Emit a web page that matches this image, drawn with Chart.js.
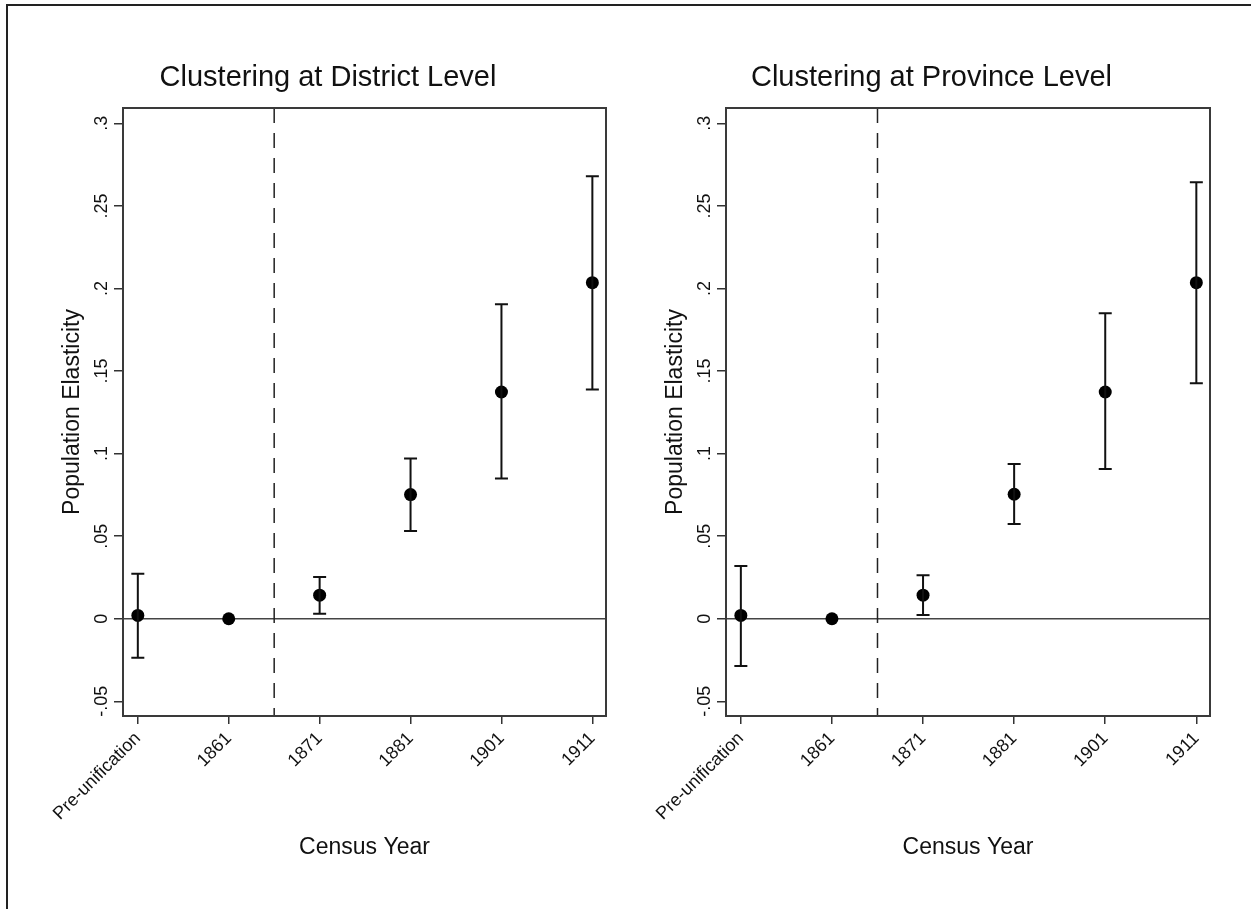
<!DOCTYPE html>
<html>
<head>
<meta charset="utf-8">
<script src="https://cdn.jsdelivr.net/npm/chart.js@4.4.1/dist/chart.umd.min.js"></script>
<style>
  html, body { margin: 0; padding: 0; background: #fff; overflow: hidden; }
  body { width: 1251px; height: 909px; position: relative; }
  #frame { position: absolute; left: 6px; top: 4px; right: -10px; bottom: -10px;
           border-left: 2px solid #222; border-top: 2px solid #222; }
  canvas { position: absolute; top: 0; }
  #districtChart { left: 0; }
  #provinceChart { left: 603px; }
</style>
</head>
<body>
<div id="frame"></div>
<canvas id="districtChart" width="656" height="909"></canvas>
<canvas id="provinceChart" width="648" height="909"></canvas>
<script>
// Census categories and y ticks
const categories = ['Pre-unification', '1861', '1871', '1881', '1901', '1911'];
const yTicks = [-0.05, 0, 0.05, 0.1, 0.15, 0.2, 0.25, 0.3];
const yTickLabels = ['-.05', '0', '.05', '.1', '.15', '.2', '.25', '.3'];

// Clustering at district level
const districtCoef = [0.002, 0, 0.0143, 0.0752, 0.1373, 0.2035];
const districtLower = [-0.0236, null, 0.003, 0.0531, 0.085, 0.1388];
const districtUpper = [0.0273, null, 0.0253, 0.097, 0.1905, 0.268];

// Clustering at province level
const provinceCoef = [0.002, 0, 0.0143, 0.0754, 0.1373, 0.2035];
const provinceLower = [-0.0286, null, 0.0023, 0.0574, 0.0907, 0.1426];
const provinceUpper = [0.032, null, 0.0263, 0.0937, 0.185, 0.2644];

// unification break drawn between 1861 and 1871
const breakAt = 1.5;

const FONT = '"Liberation Sans", Arial, Helvetica, sans-serif';
const INK = '#111';

// Frame, zero line and dashed break line
const framePlugin = {
  id: 'frameLines',
  beforeDatasetsDraw(chart) {
    const { ctx, chartArea: a, scales: { x, y } } = chart;
    ctx.save();
    const y0 = y.getPixelForValue(0);
    ctx.strokeStyle = '#444';
    ctx.lineWidth = 1.5;
    ctx.beginPath();
    ctx.moveTo(a.left, y0);
    ctx.lineTo(a.right, y0);
    ctx.stroke();

    const xb = x.getPixelForValue(breakAt);
    ctx.strokeStyle = '#222';
    ctx.setLineDash([15, 10]);
    ctx.beginPath();
    ctx.moveTo(xb, a.top);
    ctx.lineTo(xb, a.bottom);
    ctx.stroke();
    ctx.restore();
  },
  afterDraw(chart) {
    const { ctx, chartArea: a } = chart;
    ctx.save();
    ctx.strokeStyle = '#3a3a3a';
    ctx.lineWidth = 2;
    ctx.strokeRect(a.left, a.top, a.right - a.left, a.bottom - a.top);
    ctx.restore();
  }
};

// Confidence intervals with caps
const errorBarPlugin = {
  id: 'errorBars',
  afterDatasetsDraw(chart, args, opts) {
    const { ctx, scales: { x, y } } = chart;
    ctx.save();
    ctx.strokeStyle = INK;
    ctx.lineWidth = 2;
    opts.lower.forEach((lo, i) => {
      const hi = opts.upper[i];
      if (lo === null || hi === null) return;
      const px = x.getPixelForValue(i);
      const pLo = y.getPixelForValue(lo);
      const pHi = y.getPixelForValue(hi);
      ctx.beginPath();
      ctx.moveTo(px, pLo);
      ctx.lineTo(px, pHi);
      ctx.moveTo(px - 6.5, pLo);
      ctx.lineTo(px + 6.5, pLo);
      ctx.moveTo(px - 6.5, pHi);
      ctx.lineTo(px + 6.5, pHi);
      ctx.stroke();
    });
    ctx.restore();
  }
};

function makeChart(id, title, coef, lower, upper, padRight) {
  const ctx = document.getElementById(id).getContext('2d');
  return new Chart(ctx, {
    type: 'scatter',
    data: {
      datasets: [{
        data: coef.map((v, i) => ({ x: i, y: v })),
        pointRadius: 6.5,
        pointHoverRadius: 6.5,
        backgroundColor: '#000',
        borderColor: '#000',
        borderWidth: 0
      }]
    },
    options: {
      responsive: false,
      animation: false,
      devicePixelRatio: 1,
      layout: { padding: { left: 50, right: padRight, top: 0, bottom: 0 } },
      plugins: {
        legend: { display: false },
        tooltip: { enabled: false },
        title: {
          display: true,
          text: title,
          color: INK,
          font: { family: FONT, size: 29, weight: 'normal' },
          padding: { top: 60.4, bottom: 12.8 }
        },
        errorBars: { lower: lower, upper: upper }
      },
      scales: {
        x: {
          type: 'linear',
          min: -0.163,
          max: 5.15,
          afterBuildTicks: axis => { axis.ticks = categories.map((c, i) => ({ value: i })); },
          afterFit: axis => { axis.height = 193; },
          border: { display: false },
          grid: { drawOnChartArea: false, drawTicks: true, tickLength: 8, color: '#333', lineWidth: 1.5 },
          ticks: {
            autoSkip: false,
            minRotation: 45,
            maxRotation: 45,
            padding: 4,
            color: INK,
            font: { family: FONT, size: 18 },
            callback: v => categories[v]
          },
          title: {
            display: true,
            text: 'Census Year',
            color: INK,
            font: { family: FONT, size: 23 },
            padding: { top: 0, bottom: 48 }
          }
        },
        y: {
          type: 'linear',
          min: -0.0589,
          max: 0.3093,
          afterBuildTicks: axis => { axis.ticks = yTicks.map(v => ({ value: v })); },
          afterFit: axis => { axis.width = 73; },
          border: { display: false },
          grid: { drawOnChartArea: false, drawTicks: true, tickLength: 9, color: '#333', lineWidth: 1.5 },
          ticks: {
            minRotation: 90,
            maxRotation: 90,
            crossAlign: 'center',
            padding: -4,
            color: INK,
            font: { family: FONT, size: 18 },
            callback: (v, i) => yTickLabels[i]
          },
          title: {
            display: true,
            text: 'Population Elasticity',
            color: INK,
            font: { family: FONT, size: 23 },
            padding: { top: 9, bottom: 0 }
          }
        }
      }
    },
    plugins: [framePlugin, errorBarPlugin]
  });
}

makeChart('districtChart', 'Clustering at District Level', districtCoef, districtLower, districtUpper, 50);
makeChart('provinceChart', 'Clustering at Province Level', provinceCoef, provinceLower, provinceUpper, 41);
</script>
</body>
</html>
